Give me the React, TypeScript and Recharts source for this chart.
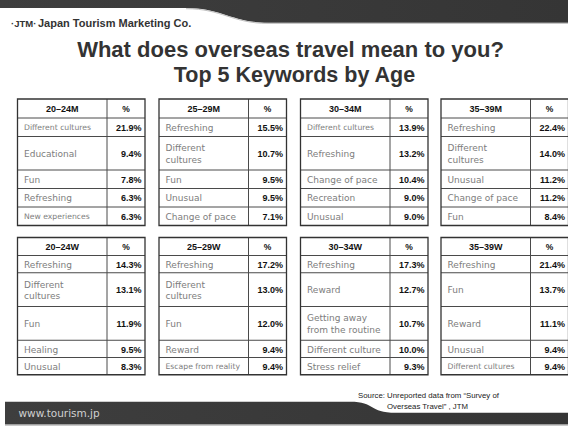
import React from 'react';
import { Surface, Layer, Rectangle, Text } from 'recharts';

// ---------- data ----------
const menAgeLabels = ['20–24M', '25–29M', '30–34M', '35–39M'];
const womenAgeLabels = ['20–24W', '25–29W', '30–34W', '35–39W'];
const pctHeader = '%';

const m2024Keywords = ['Different cultures', 'Educational', 'Fun', 'Refreshing', 'New experiences'];
const m2024Values = [21.9, 9.4, 7.8, 6.3, 6.3];
const m2529Keywords = ['Refreshing', 'Different\ncultures', 'Fun', 'Unusual', 'Change of pace'];
const m2529Values = [15.5, 10.7, 9.5, 9.5, 7.1];
const m3034Keywords = ['Different cultures', 'Refreshing', 'Change of pace', 'Recreation', 'Unusual'];
const m3034Values = [13.9, 13.2, 10.4, 9.0, 9.0];
const m3539Keywords = ['Refreshing', 'Different\ncultures', 'Unusual', 'Change of pace', 'Fun'];
const m3539Values = [22.4, 14.0, 11.2, 11.2, 8.4];

const w2024Keywords = ['Refreshing', 'Different\ncultures', 'Fun', 'Healing', 'Unusual'];
const w2024Values = [14.3, 13.1, 11.9, 9.5, 8.3];
const w2529Keywords = ['Refreshing', 'Different\ncultures', 'Fun', 'Reward', 'Escape from reality'];
const w2529Values = [17.2, 13.0, 12.0, 9.4, 9.4];
const w3034Keywords = ['Refreshing', 'Reward', 'Getting away\nfrom the routine', 'Different culture', 'Stress relief'];
const w3034Values = [17.3, 12.7, 10.7, 10.0, 9.3];
const w3539Keywords = ['Refreshing', 'Fun', 'Reward', 'Unusual', 'Different cultures'];
const w3539Values = [21.4, 13.7, 11.1, 9.4, 9.4];

const titleLines = ['What does overseas travel mean to you?', 'Top 5 Keywords by Age'];
const companyName = 'Japan Tourism Marketing Co.';
const logoText = '·JTM·';
const siteUrl = 'www.tourism.jp';
const sourceLines = ['Source: Unreported data from \u201CSurvey of', 'Overseas Travel\u201D , JTM'];

// ---------- layout ----------
const W = 568;
const H = 429;
const TABLE_LEFTS = [17.5, 159, 300.5, 441];
const TABLE_W = 127.5;
const KEY_W = 89.5;

const KW_FONT = '"DejaVu Sans", sans-serif';
const BOLD_FONT = '"Liberation Sans", Arial, sans-serif';

let ctx: CanvasRenderingContext2D | null = null;
function measure(text: string, font: string): number {
  if (!ctx) ctx = document.createElement('canvas').getContext('2d');
  if (!ctx) return text.length * 5;
  ctx.font = font;
  return ctx.measureText(text).width;
}

type Block = {
  top: number;
  headerH: number;
  singleH: number;
  doubleH: number;
  labels: string[];
  keywords: string[][];
  values: number[][];
};

function rowHeights(block: Block): number[] {
  const hs: number[] = [];
  for (let r = 0; r < 5; r++) {
    const tall = block.keywords.some((kw) => kw[r].includes('\n'));
    hs.push(tall ? block.doubleH : block.singleH);
  }
  return hs;
}

function TableBlock({ block }: { block: Block }) {
  const hs = rowHeights(block);
  const ys: number[] = [block.top, block.top + block.headerH];
  hs.forEach((h) => ys.push(ys[ys.length - 1] + h));
  return (
    <Layer>
      {block.labels.map((label, t) => {
        const x0 = TABLE_LEFTS[t];
        const xd = x0 + KEY_W;
        const x1 = x0 + TABLE_W;
        const kws = block.keywords[t];
        const vals = block.values[t];
        return (
          <Layer key={label}>
            <Rectangle x={x0} y={ys[0]} width={TABLE_W} height={ys[6] - ys[0]} fill="#fff" stroke="none" />
            {ys.slice(1, 6).map((y, i) => (
              <line key={i} x1={x0} x2={x1} y1={y} y2={y} stroke="#4a4a4a" strokeWidth={1} />
            ))}
            <line x1={xd} x2={xd} y1={ys[0]} y2={ys[6]} stroke="#4a4a4a" strokeWidth={1} />
            <Rectangle x={x0} y={ys[0]} width={TABLE_W} height={ys[6] - ys[0]} fill="none" stroke="#333" strokeWidth={1.3} />
            <Text x={(x0 + xd) / 2} y={(ys[0] + ys[1]) / 2 + 0.5} textAnchor="middle" verticalAnchor="middle"
              fontFamily={BOLD_FONT} fontWeight="bold" fontSize={9} fill="#111">{label}</Text>
            <Text x={(xd + x1) / 2} y={(ys[0] + ys[1]) / 2 + 0.5} textAnchor="middle" verticalAnchor="middle"
              fontFamily={BOLD_FONT} fontWeight="bold" fontSize={8.5} fill="#111">{pctHeader}</Text>
            {kws.map((kw, r) => {
              const lines = kw.split('\n');
              const cy = (ys[r + 1] + ys[r + 2]) / 2;
              const widest = Math.max(...lines.map((l) => measure(l, `9px ${KW_FONT}`)));
              const fs = widest > 76 ? 7.7 : 9;
              const lh = 11.5;
              return (
                <Layer key={r}>
                  {lines.map((ln, li) => (
                    <Text key={li} x={x0 + 6.5} y={cy + (li - (lines.length - 1) / 2) * lh + 0.5}
                      textAnchor="start" verticalAnchor="middle" fontFamily={KW_FONT} fontSize={fs} fill="#7d7d7d">
                      {ln}
                    </Text>
                  ))}
                  <Text x={x1 - 3.5} y={cy + 0.5} textAnchor="end" verticalAnchor="middle"
                    fontFamily={BOLD_FONT} fontWeight="bold" fontSize={9} fill="#111">
                    {`${vals[r].toFixed(1)}%`}
                  </Text>
                </Layer>
              );
            })}
          </Layer>
        );
      })}
    </Layer>
  );
}

export default function App() {
  const menBlock: Block = {
    top: 99, headerH: 19, singleH: 18.5, doubleH: 33.5,
    labels: menAgeLabels,
    keywords: [m2024Keywords, m2529Keywords, m3034Keywords, m3539Keywords],
    values: [m2024Values, m2529Values, m3034Values, m3539Values],
  };
  const womenBlock: Block = {
    top: 237.5, headerH: 18, singleH: 17.25, doubleH: 33.75,
    labels: womenAgeLabels,
    keywords: [w2024Keywords, w2529Keywords, w3034Keywords, w3539Keywords],
    values: [w2024Values, w2529Values, w3034Values, w3539Values],
  };
  return (
    <div style={{ position: 'absolute', left: 0, top: 0, width: W, height: H, background: '#fff' }}>
      <Surface width={W} height={H}>
        <defs>
          <linearGradient id="band" x1="0" y1="0" x2="1" y2="0">
            <stop offset="0" stopColor="#3e3e3e" />
            <stop offset="1" stopColor="#353535" />
          </linearGradient>
        </defs>
        <rect x={0} y={0} width={W} height={H} fill="#fff" />
        {/* top band */}
        <path d="M0,0 H568 V22.7 H268 C232,22.7 222,8 186,8 H0 Z" fill="url(#band)" />
        <path d="M568,23.4 H268 C232,23.4 222,8.7 186,8.7" fill="none" stroke="#b0b0b0" strokeWidth={0.8} />
        <Text x={11} y={26.5} fontFamily={BOLD_FONT} fontWeight="bold" fontSize={9.5} fill="#333">{logoText}</Text>
        <Text x={38} y={26.5} fontFamily={BOLD_FONT} fontWeight="bold" fontSize={11} fill="#333">{companyName}</Text>
        <Text x={290.5} y={57} textAnchor="middle" fontFamily={BOLD_FONT} fontWeight="bold" fontSize={22} fill="#333">{titleLines[0]}</Text>
        <Text x={294.5} y={82} textAnchor="middle" fontFamily={BOLD_FONT} fontWeight="bold" fontSize={21.5} fill="#333">{titleLines[1]}</Text>

        <TableBlock block={menBlock} />
        <TableBlock block={womenBlock} />

        {/* footer band */}
        <path d="M5,401.7 H350 C376,401.7 368,412.7 396,412.7 H568 V424.5 H5 Z" fill="url(#band)" />
        <line x1={5} x2={568} y1={425.3} y2={425.3} stroke="#aaa" strokeWidth={0.8} />
        <Text x={18.5} y={416.5} fontFamily={KW_FONT} fontSize={10.5} fill="#d0d0d0">{siteUrl}</Text>
        <Text x={428.5} y={398} textAnchor="middle" fontFamily={BOLD_FONT} fontSize={7.8} fill="#222">{sourceLines[0]}</Text>
        <Text x={427.5} y={408.5} textAnchor="middle" fontFamily={BOLD_FONT} fontSize={7.8} fill="#222">{sourceLines[1]}</Text>
      </Surface>
    </div>
  );
}
